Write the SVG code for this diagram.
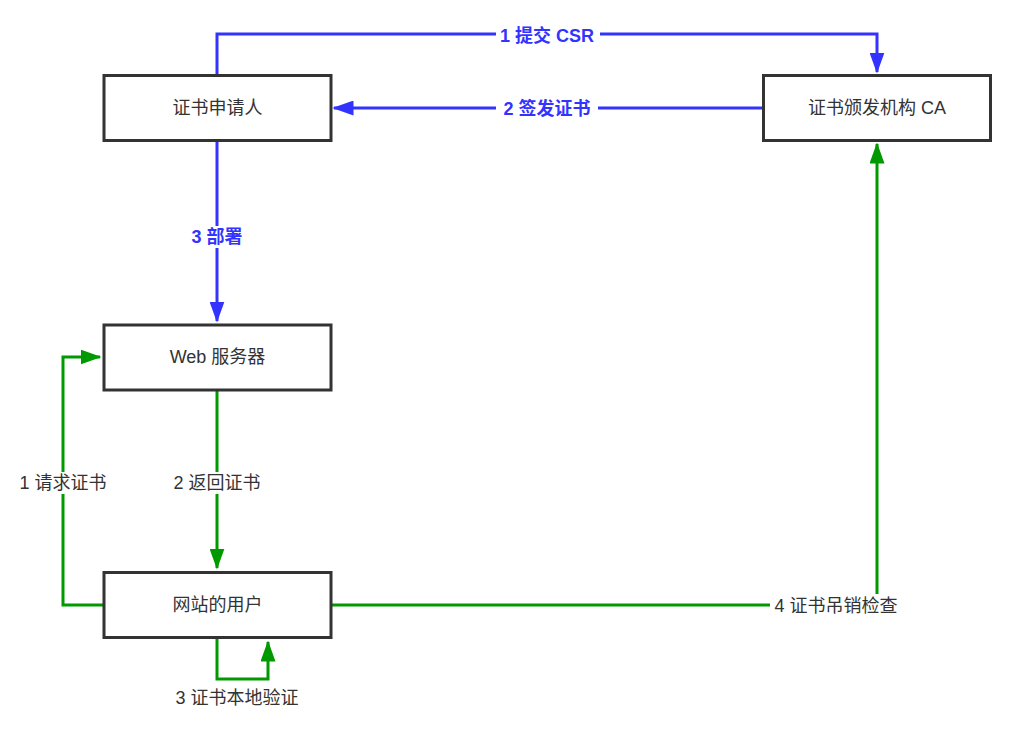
<svg xmlns="http://www.w3.org/2000/svg" width="1024" height="730" viewBox="0 0 1024 730">
<defs>
<style>
.box{fill:#fff;stroke:#333;stroke-width:3}
.t{font-family:"Liberation Sans","Noto Sans CJK SC",sans-serif;font-size:18px;fill:#333;text-anchor:middle;dominant-baseline:central}
.bl{fill:#3333ff;font-weight:bold}
.eb{fill:none;stroke:#3333ff;stroke-width:3}
.eg{fill:none;stroke:#009900;stroke-width:3}
.lb{fill:#fff}
</style>
<marker id="ab" viewBox="0 0 14 10" refX="13" refY="5" markerWidth="7" markerHeight="5" orient="auto" markerUnits="strokeWidth"><path d="M0,0 L14,5 L0,10 z" fill="#3333ff"/></marker>
<marker id="ag" viewBox="0 0 14 10" refX="13" refY="5" markerWidth="7" markerHeight="5" orient="auto" markerUnits="strokeWidth"><path d="M0,0 L14,5 L0,10 z" fill="#009900"/></marker>
</defs>
<rect width="1024" height="730" fill="#fff"/>
<g id="connectors">
<path class="eb" d="M217,75 V34 H877 V72" marker-end="url(#ab)"/>
<path class="eb" d="M763,108 H334" marker-end="url(#ab)"/>
<path class="eb" d="M217,140 V321" marker-end="url(#ab)"/>
<path class="eg" d="M217,390 V568" marker-end="url(#ag)"/>
<path class="eg" d="M104,605 H63 V357 H100" marker-end="url(#ag)"/>
<path class="eg" d="M217,638 V679 H268 V642" marker-end="url(#ag)"/>
<path class="eg" d="M331,605 H877 V144" marker-end="url(#ag)"/>
<rect class="lb" x="496" y="25" width="104" height="20"/>
<text class="t bl" x="547" y="36">1 提交 CSR</text>
<rect class="lb" x="496" y="99" width="102" height="20"/>
<text class="t bl" x="547" y="109">2 签发证书</text>
<rect class="lb" x="184" y="226" width="66" height="22"/>
<text class="t bl" x="217" y="237">3 部署</text>
<rect class="lb" x="166" y="472" width="102" height="22"/>
<text class="t" x="217" y="483">2 返回证书</text>
<rect class="lb" x="12" y="472" width="102" height="22"/>
<text class="t" x="63" y="483">1 请求证书</text>
<text class="t" x="237" y="698">3 证书本地验证</text>
<rect class="lb" x="770" y="594" width="132" height="24"/>
<text class="t" x="836" y="606">4 证书吊销检查</text>
</g>
<g id="applicant"><rect class="box" x="104" y="75.5" width="227" height="65"/><text class="t" x="217.5" y="108">证书申请人</text></g>
<g id="ca"><rect class="box" x="763.5" y="75.5" width="227" height="65"/><text class="t" x="877" y="108">证书颁发机构 CA</text></g>
<g id="web"><rect class="box" x="104" y="325" width="227" height="65"/><text class="t" x="217.5" y="357">Web 服务器</text></g>
<g id="user"><rect class="box" x="104" y="572.5" width="227" height="65"/><text class="t" x="217.5" y="605">网站的用户</text></g>
</svg>
